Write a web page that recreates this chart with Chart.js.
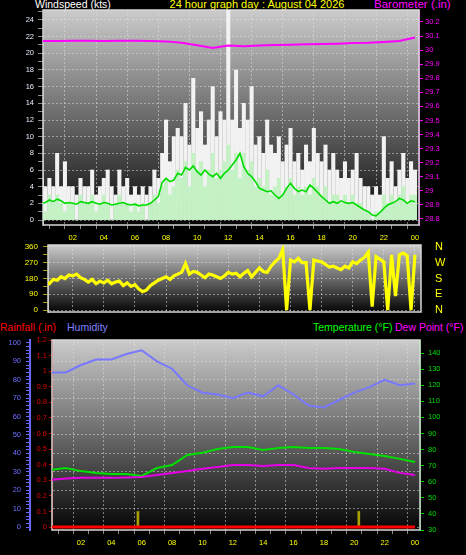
<!DOCTYPE html>
<html>
<head>
<meta charset="utf-8">
<script src="https://cdn.jsdelivr.net/npm/chart.js@4.4.1/dist/chart.umd.min.js"></script>
<style>
body { margin: 0; background: #000; width: 466px; height: 555px; overflow: hidden; position: relative; font-family: "Liberation Sans", Arial, sans-serif; }
canvas { position: absolute; left: 0; }
.lbl { position: absolute; font-size: 10.5px; line-height: 11px; white-space: nowrap; }
</style>
</head>
<body>
<div class="lbl" style="left:35px;top:-1px;color:#fff">Windspeed (kts)</div>
<div class="lbl" style="left:257px;top:-1px;color:#ffff00;transform:translateX(-50%);font-size:11px">24 hour graph day : August 04 2026</div>
<div class="lbl" style="left:374px;top:-1px;color:#ff00ff;font-size:11.5px">Barometer (.in)</div>
<div class="lbl" style="left:0;top:322px;color:#ff0000">Rainfall (.in)</div>
<div class="lbl" style="left:67px;top:322px;color:#8080ff">Humidity</div>
<div class="lbl" style="left:313px;top:322px;color:#00ff00">Temperature (°F)</div>
<div class="lbl" style="left:395px;top:322px;color:#ff00ff">Dew Point (°F)</div>

<canvas id="windChart" width="466" height="245" style="top:0"></canvas>
<canvas id="dirChart" width="466" height="80" style="top:240px"></canvas>
<canvas id="climateChart" width="466" height="237" style="top:318px"></canvas>

<script>
// wind samples every 15 minutes, 00:00 .. 24:00
var windGust = [
  5, 4, 5, 4,   8, 4, 7, 4,   4, 3, 5, 4,   4, 6, 3, 4,
  5, 6, 4, 3,   6, 4, 5, 3,   4, 3, 4, 3,   4, 6, 5, 8,
  12, 7, 10, 11,  10, 14, 9, 17,  11, 13, 9, 12,  16, 10, 13, 12,
  26, 12, 18, 11,  14, 12, 16, 9,  10, 8, 12, 9,  8, 10, 7, 9,
  11, 7, 8, 6,  9, 7, 11, 8,  7, 9, 6, 8,  6, 5, 7, 5,
  6, 8, 5, 4,  4, 3, 4, 3,  10, 5, 7, 4,  6, 8, 5, 7,
  6
];
var windSpeed = [
  2, 1, 3, 2,   3, 2, 1, 2,   2, 0, 3, 2,   2, 3, 1, 2,
  3, 2, 0, 2,   3, 2, 2, 1,   2, 1, 2, 0,   2, 3, 2, 4,
  5, 3, 4, 6,   5, 7, 4, 8,   6, 7, 4, 6,   8, 5, 6, 7,
  9, 6, 8, 5,   8, 6, 7, 4,   5, 4, 6, 3,   4, 5, 3, 4,
  5, 3, 4, 3,   4, 3, 5, 4,   3, 4, 2, 3,   3, 2, 3, 2,
  3, 2, 2, 1,   1, 0, 1, 1,   3, 2, 3, 2,   3, 4, 2, 3,
  3
];
var windAverage = [
  2.0, 2.1, 2.4, 2.2,  2.5, 2.3, 2.0, 2.1,  2.0, 1.9, 2.2, 2.1,  2.0, 2.2, 2.0, 1.9,
  2.1, 2.0, 1.8, 1.9,  2.0, 2.1, 1.9, 1.8,  1.9, 1.7, 1.8, 1.8,  2.0, 2.4, 2.8, 4.5,
  5.0, 4.6, 4.8, 5.6,  5.4, 6.3, 6.0, 6.5,  5.8, 5.4, 6.0, 5.5,  5.2, 5.6, 5.0, 5.6,
  6.0, 6.6, 7.2, 8.0,  6.4, 5.6, 5.2, 4.6,  3.8, 3.6, 3.4, 3.5,  3.0, 2.6, 3.0, 3.8,
  4.4, 3.8, 3.4, 3.6,  3.4, 4.2, 3.8, 3.3,  2.8, 2.4, 2.0, 2.2,  2.0, 2.3, 2.1, 2.0,
  2.1, 1.8, 1.5, 1.2,  1.0, 0.6, 0.5, 0.9,  1.4, 1.8, 2.0, 2.2,  2.6, 2.4, 2.0, 2.3,
  2.2
];
var windDirection = [
  140, 165, 150, 175,  170, 190, 180, 200,  195, 205, 185, 175,  160, 175, 150, 165,
  155, 170, 150, 160,  165, 140, 155, 135,  145, 120, 105, 115,  140, 155, 170, 180,
  190, 175, 195, 205,  215, 265, 205, 220,  215, 200, 185, 205,  200, 190, 180, 195,
  215, 205, 210, 190,  210, 225, 190, 215,  240, 220, 215, 250,  275, 295, 345, 0,
  285, 275, 295, 270,  270, 0, 285, 280,  275, 260, 245, 250,  240, 230, 250, 240,
  275, 265, 285, 300,  330, 20, 305, 290,  275, 0, 315, 80,  315, 325, 310, 0,
  315
];
// hourly values, 00:00 .. 24:00
var barometer = [30.064, 30.065, 30.066, 30.066, 30.065, 30.066, 30.067, 30.065, 30.062, 30.052, 30.035, 30.015, 30.032,
  30.028, 30.033, 30.036, 30.038, 30.042, 30.044, 30.046, 30.05, 30.052, 30.057, 30.064, 30.09];
var humidity = [84, 84, 88, 91, 91, 94, 96, 90, 86, 77, 73, 72, 70, 73, 71, 77, 72, 66, 65, 69, 73, 76, 80, 77, 78];
var temperature = [67.3, 68.6, 66.6, 65.5, 64.8, 64.8, 63.6, 68.5, 70.4, 76.6, 78, 80.4, 81.6, 81.6, 79.8, 81, 81.6, 81, 81, 80.4, 78.5, 77.3, 76, 74.2, 72.3];
var dewPoint = [61.1, 62, 62.4, 62.4, 62.4, 62.7, 63, 64.2, 65.5, 66.7, 68, 69.2, 70.4, 70.4, 69.8, 70.4, 70.4, 68.6, 68, 68.6, 68.6, 68.6, 68, 65.5, 64.2];
var rainfall = [0, 0, 0, 0, 0, 0, 0, 0, 0, 0, 0, 0, 0, 0, 0, 0, 0, 0, 0, 0, 0, 0, 0, 0, 0];
var rainMarkHours = [5.75, 20.3];
var rainMarkAmounts = [0.1, 0.1];

var hourLabels = ['02', '04', '06', '08', '10', '12', '14', '16', '18', '20', '22', '00'];
var compassLabels = ['N', 'E', 'S', 'W', 'N'];

var windHours = windGust.map(function(v, i) { return i * 0.25; });
var hourly = humidity.map(function(v, i) { return i; });

Chart.defaults.font.family = 'Liberation Sans';

var gridColor = 'rgba(225,225,225,0.5)';
var tickFont = { size: 7.5 };

function points(xs, ys) {
  return ys.map(function(y, i) { return { x: xs[i], y: y }; });
}

function isMultiple(v, n) {
  return Math.abs(v / n - Math.round(v / n)) < 1e-6;
}

function trim1(v) {
  return String(Number(v.toFixed(1)));
}

// stop label overhang from moving the plot area
function noOverhang(s) {
  s.paddingTop = 0; s.paddingBottom = 0; s.paddingLeft = 0; s.paddingRight = 0;
}

// gradient fill behind the plot and a light frame round it
var panelBackground = {
  id: 'panelBackground',
  beforeDraw: function(chart) {
    var a = chart.chartArea, ctx = chart.ctx;
    var g = ctx.createLinearGradient(0, a.top, 0, a.bottom);
    g.addColorStop(0, '#cbcbcb');
    g.addColorStop(0.5, '#6a6a6a');
    g.addColorStop(1, '#050505');
    ctx.save();
    ctx.fillStyle = g;
    ctx.fillRect(a.left, a.top, a.right - a.left, a.bottom - a.top);
    ctx.restore();
  },
  beforeDatasetsDraw: function(chart) {
    var a = chart.chartArea, ctx = chart.ctx;
    ctx.save();
    ctx.strokeStyle = '#d8d8d8';
    ctx.lineWidth = 1.5;
    ctx.strokeRect(a.left, a.top, a.right - a.left, a.bottom - a.top);
    ctx.restore();
  }
};

function gridLineColor(every) {
  return function(c) {
    if (!every || !c.tick) return 'transparent';
    return isMultiple(c.tick.value, every) ? gridColor : 'transparent';
  };
}

function hourAxis(min, max, height, showLabels) {
  return {
    type: 'linear', min: min, max: max, offset: false,
    afterFit: function(s) { s.height = height; noOverhang(s); },
    border: { display: false, dash: [2, 2] },
    grid: {
      color: gridLineColor(2),
      tickColor: '#8a8a8a', tickLength: showLabels ? 4 : 0, drawTicks: showLabels
    },
    ticks: {
      display: showLabels, stepSize: 1, autoSkip: false, includeBounds: false, maxRotation: 0,
      padding: 4, color: '#ffff00', font: tickFont,
      callback: function(v) { return (isMultiple(v, 2) && v > 0) ? hourLabels[Math.round(v / 2) - 1] : ''; }
    }
  };
}

function valueAxis(o) {
  return {
    position: o.position, weight: o.weight || 0, min: o.min, max: o.max,
    afterFit: function(s) { s.width = o.width; noOverhang(s); },
    border: { display: true, color: o.borderColor, width: o.borderWidth || 1, dash: [2, 2] },
    grid: {
      drawOnChartArea: !!o.gridEvery,
      color: gridLineColor(o.gridEvery),
      tickColor: o.tickColor, tickLength: o.tickLength === undefined ? 4 : o.tickLength,
      drawTicks: o.tickLength !== 0
    },
    ticks: {
      stepSize: o.step, autoSkip: false, includeBounds: false, padding: o.padding,
      color: o.labelColor, font: o.font || tickFont,
      callback: function(v) { return isMultiple(v, o.labelEvery) ? o.format(v) : ''; }
    }
  };
}

var quiet = {
  responsive: false, animation: false, events: [],
  plugins: { legend: { display: false }, tooltip: { enabled: false } }
};

// top panel: wind speed and barometer
new Chart(document.getElementById('windChart'), {
  type: 'line',
  data: {
    datasets: [
      { type: 'line', data: points(hourly, barometer), yAxisID: 'yBaro', borderColor: '#ff00ff', borderWidth: 2, pointRadius: 0, order: 0 },
      { type: 'line', data: points(windHours, windAverage), yAxisID: 'yWind', borderColor: '#00dc00', borderWidth: 1.6, pointRadius: 0, order: 1 },
      { type: 'bar', data: points(windHours, windSpeed), yAxisID: 'yWind', backgroundColor: '#c4f2c4', barThickness: 3.4, grouped: false, order: 2 },
      { type: 'bar', data: points(windHours, windGust), yAxisID: 'yWind', backgroundColor: '#f2f2f2', barThickness: 3.4, grouped: false, order: 3 }
    ]
  },
  options: Object.assign({}, quiet, {
    layout: { padding: { top: 10, left: 0, right: 0, bottom: 0 } },
    scales: {
      x: hourAxis(0.09, 24.26, 20, true),
      yWind: valueAxis({ position: 'left', min: -0.6, max: 25.2, width: 43, step: 1, labelEvery: 2, gridEvery: 2,
        borderColor: '#9a9a9a', tickColor: '#8a8a8a', tickLength: 5, padding: 4, labelColor: '#e6eeff',
        format: function(v) { return String(v); } }),
      yBaro: valueAxis({ position: 'right', min: 28.757, max: 30.285, width: 47, step: 0.1, labelEvery: 0.1,
        borderColor: '#ff00ff', tickColor: '#ff00ff', tickLength: 4, padding: 2, labelColor: '#ff00ff',
        format: trim1 })
    }
  }),
  plugins: [panelBackground]
});

// middle panel: wind direction
new Chart(document.getElementById('dirChart'), {
  type: 'line',
  data: {
    datasets: [
      { data: points(windHours, windDirection), yAxisID: 'yDir', borderColor: '#ffff00', borderWidth: 3.2, pointRadius: 0 }
    ]
  },
  options: Object.assign({}, quiet, {
    layout: { padding: { top: 5, left: 0, right: 0, bottom: 8 } },
    scales: {
      x: hourAxis(0.41, 24.39, 0, false),
      yDir: valueAxis({ position: 'left', min: -11, max: 371, width: 48, step: 45, labelEvery: 90, gridEvery: 90,
        borderColor: '#9a9a9a', tickColor: '#a0a000', tickLength: 5, padding: 5, labelColor: '#ffff00',
        font: { size: 8 }, format: function(v) { return String(v); } }),
      yCompass: valueAxis({ position: 'right', min: -11, max: 371, width: 45, step: 90, labelEvery: 90,
        borderColor: 'rgba(0,0,0,0)', borderWidth: 0, tickColor: 'rgba(0,0,0,0)', tickLength: 0, padding: 14,
        labelColor: '#ffff00', font: { size: 11 },
        format: function(v) { return compassLabels[Math.round(v / 90)]; } })
    }
  }),
  plugins: [panelBackground]
});

// bottom panel: rainfall, humidity, temperature, dew point
new Chart(document.getElementById('climateChart'), {
  type: 'line',
  data: {
    datasets: [
      { type: 'line', data: points(hourly, rainfall), yAxisID: 'yRain', borderColor: '#ff0000', borderWidth: 3, pointRadius: 0, order: 0 },
      { type: 'bar', data: points(rainMarkHours, rainMarkAmounts), yAxisID: 'yRain', backgroundColor: '#a8a000', barThickness: 2, grouped: false, order: 1 },
      { type: 'line', data: points(hourly, dewPoint), yAxisID: 'yTemp', borderColor: '#e600e6', borderWidth: 2, pointRadius: 0, order: 2 },
      { type: 'line', data: points(hourly, temperature), yAxisID: 'yTemp', borderColor: '#00e000', borderWidth: 2, pointRadius: 0, order: 3 },
      { type: 'line', data: points(hourly, humidity), yAxisID: 'yHum', borderColor: '#7878ff', borderWidth: 2, pointRadius: 0, order: 4 }
    ]
  },
  options: Object.assign({}, quiet, {
    layout: { padding: { top: 22, left: 0, right: 0, bottom: 0 } },
    scales: {
      x: hourAxis(0.09, 24.33, 25, true),
      yHum: valueAxis({ position: 'left', weight: 1, min: -1.6, max: 101.6, width: 30, step: 2, labelEvery: 10, gridEvery: 10,
        borderColor: '#6868ff', borderWidth: 2, tickColor: '#6868ff', tickLength: 4, padding: 5, labelColor: '#6f6fff',
        format: function(v) { return String(v); } }),
      yRain: valueAxis({ position: 'left', weight: 0, min: -0.019, max: 1.2, width: 22, step: 0.1, labelEvery: 0.1,
        borderColor: '#c00000', tickColor: '#c00000', tickLength: 3, padding: 2, labelColor: '#dd0000',
        format: trim1 }),
      yTemp: valueAxis({ position: 'right', min: 30, max: 148.1, width: 46, step: 10, labelEvery: 10,
        borderColor: '#00c000', tickColor: '#00d000', tickLength: 4, padding: 4, labelColor: '#00dd00',
        format: function(v) { return String(v); } })
    }
  }),
  plugins: [panelBackground]
});
</script>
</body>
</html>
